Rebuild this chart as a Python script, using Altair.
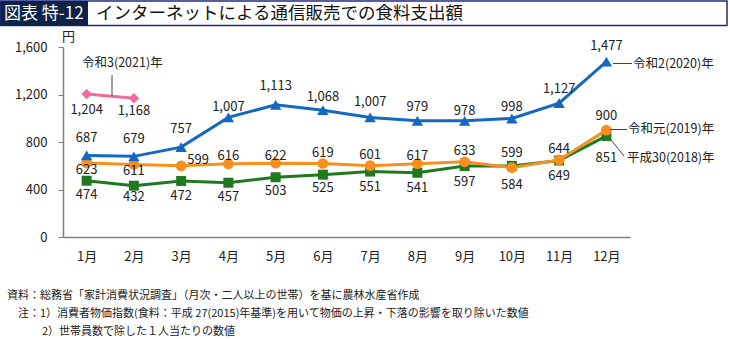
import altair as alt
import pandas as pd

MONTHS = ["1月", "2月", "3月", "4月", "5月", "6月", "7月", "8月", "9月", "10月", "11月", "12月"]
Y2018 = [474, 432, 472, 457, 503, 525, 551, 541, 597, 599, 644, 851]
Y2019 = [623, 611, 599, 616, 622, 619, 601, 617, 633, 584, 649, 900]
Y2020 = [687, 679, 757, 1007, 1113, 1068, 1007, 979, 978, 998, 1127, 1477]
Y2021 = [1204, 1168]
SERIES = ["平成30(2018)年", "令和元(2019)年", "令和2(2020)年", "令和3(2021)年"]
Y_TICKS = [0, 400, 800, 1200, 1600]

TITLE_TAG = "図表 特-12"
TITLE = "インターネットによる通信販売での食料支出額"
UNIT = "円"
NOTES = [
    "資料：総務省「家計消費状況調査」（月次・二人以上の世帯）を基に農林水産省作成",
    "注：1）消費者物価指数(食料：平成 27(2015)年基準)を用いて物価の上昇・下落の影響を取り除いた数値",
    "2）世帯員数で除した１人当たりの数値",
]

# label placement offsets (pixels, positive = down / right)
DY = {
    SERIES[0]: [14, 11, 15, 14, 14, 13, 15, 15, 16, -13, -12, 22],
    SERIES[1]: [7, 7, -6, -8, -7, -10, -11, -8, -11, 17, 16, -14],
    SERIES[2]: [-17, -17, -18, -10, -19, -13, -15, -14, -10, -11, -14, -16],
    SERIES[3]: [16, 13],
}
DX = {
    SERIES[0]: [0] * 12,
    SERIES[1]: [0, 0, 17, 0, 0, 0, 0, 0, 0, 0, 0, 0],
    SERIES[2]: [0] * 12,
    SERIES[3]: [0, 0],
}

COLORS = {SERIES[0]: "#1F7A1F", SERIES[1]: "#F7901E", SERIES[2]: "#1468C0", SERIES[3]: "#EE6C9C"}
SHAPES = {SERIES[0]: "square", SERIES[1]: "circle", SERIES[2]: "triangle-up", SERIES[3]: "diamond"}
SIZES = {SERIES[0]: 100, SERIES[1]: 115, SERIES[2]: 130, SERIES[3]: 110}

FONT = "Noto Sans CJK JP"
X0, Y0 = 63, 47
W, H = 567, 190
YMAX = 1600

rows = []
for name, vals in zip(SERIES, [Y2018, Y2019, Y2020, Y2021]):
    for i, v in enumerate(vals):
        rows.append({"month": MONTHS[i], "series": name, "value": v,
                     "dy": DY[name][i], "dx": DX[name][i]})
df = pd.DataFrame(rows)

xscale = alt.Scale(type="point", domain=MONTHS, padding=0.5)
yscale = alt.Scale(domain=[0, YMAX], nice=False)
yaxis = alt.Axis(title=None, values=Y_TICKS, format=",d", grid=False,
                 domainColor="#7f7f7f", domainWidth=1.5, tickColor="#7f7f7f",
                 tickSize=5, labelPadding=11, labelFontSize=13,
                 labelColor="#222", labelFont=FONT)
xs = alt.X("month:N", sort=MONTHS, scale=xscale,
           axis=alt.Axis(title=None, labelAngle=0, ticks=False, labelPadding=13,
                         domainColor="#7f7f7f", domainWidth=1.5,
                         labelFontSize=13, labelColor="#222", labelFont=FONT))
ys = alt.Y("value:Q", scale=yscale, axis=yaxis)

layers = []
for name in [SERIES[3], SERIES[0], SERIES[1], SERIES[2]]:
    base = alt.Chart(df).transform_filter(alt.datum.series == name)
    layers.append(base.mark_line(color=COLORS[name], strokeWidth=3).encode(x=xs, y=ys))
    layers.append(base.mark_point(color=COLORS[name], filled=True, opacity=1,
                                  shape=SHAPES[name], size=SIZES[name]).encode(x=xs, y=ys))
for name in SERIES:
    base = (alt.Chart(df).transform_filter(alt.datum.series == name)
            .transform_calculate(ly=f"datum.value - datum.dy * {YMAX} / {H}"))
    layers.append(base.mark_text(font=FONT, fontSize=13, color="#222",
                                 baseline="middle", align="center").encode(
        x=xs, y=alt.Y("ly:Q", scale=yscale, axis=yaxis),
        xOffset=alt.XOffset("dx:Q", scale=None),
        text=alt.Text("value:Q", format=",d")))

one = pd.DataFrame({"a": [0]})


def px(x):
    return alt.value(x - X0)


def py(y):
    return alt.value(y - Y0)


def text(s, x, y, size=13, color="#222", align="left"):
    return alt.Chart(one).mark_text(text=s, font=FONT, fontSize=size, color=color,
                                    align=align, baseline="middle").encode(x=px(x), y=py(y))


def rule(x1, y1, x2, y2, color="#444", w=1):
    return alt.Chart(one).mark_rule(color=color, strokeWidth=w).encode(
        x=px(x1), y=py(y1), x2=px(x2), y2=py(y2))


# title bar
layers.append(alt.Chart(one).mark_rect(fill="white", stroke="#1F2A80", strokeWidth=1.5).encode(
    x=px(0.75), x2=px(727), y=py(1), y2=py(25.5)))
layers.append(alt.Chart(one).mark_rect(fill="#0D2247").encode(
    x=px(0.75), x2=px(88), y=py(1), y2=py(25.5)))
layers.append(text(TITLE_TAG, 4, 14, size=17, color="white"))
layers.append(text(TITLE, 96, 14, size=17.5, color="#111"))

# unit
layers.append(text(UNIT, 62, 37, size=13))

# series annotations
layers.append(text(SERIES[3], 82, 63, size=12.5))
layers.append(rule(112, 75, 112, 96))
layers.append(text(SERIES[2], 633, 64, size=12.5))
layers.append(rule(613, 63.5, 632, 63.5))
layers.append(text(SERIES[1], 628, 129, size=12.5))
layers.append(rule(610, 129.5, 627, 129.5))
layers.append(text(SERIES[0], 627, 158, size=12.5))
layers.append(rule(611, 140, 624, 156))

# notes
layers.append(text(NOTES[0], 7, 296, size=11))
layers.append(text(NOTES[1], 18, 314, size=11))
layers.append(text(NOTES[2], 42, 332, size=11))

chart = alt.layer(*layers).properties(
    width=W, height=H,
    padding={"left": X0, "top": Y0, "right": 730 - X0 - W, "bottom": 339 - Y0 - H},
    autosize=alt.AutoSizeParams(type="none"),
    background="white",
).configure_view(stroke=None)

chart.save("out.html", embed_options={"renderer": "svg", "actions": False})
